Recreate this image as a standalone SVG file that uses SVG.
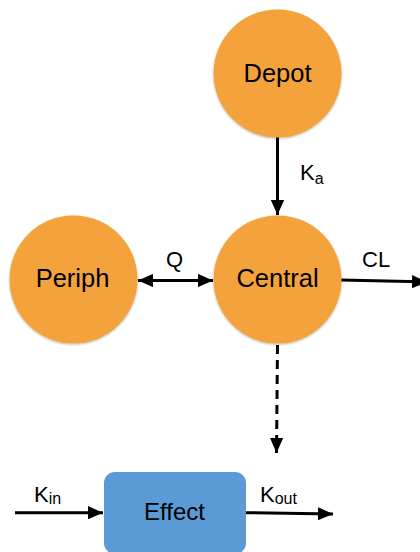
<svg xmlns="http://www.w3.org/2000/svg" width="420" height="552" viewBox="0 0 420 552">
<style>
.comp{fill:#F4A23B;filter:url(#sh)}
.big{font-family:"Liberation Sans",Arial,sans-serif;font-size:25.5px;fill:#000;text-anchor:middle}
.lbl{font-family:"Liberation Sans",Arial,sans-serif;font-size:22px;fill:#000}
.sub{font-size:16px}
.conn{stroke:#000;stroke-width:3;fill:none}
</style>
<defs>
<filter id="sh" x="-10%" y="-10%" width="120%" height="120%">
<feDropShadow dx="0" dy="1" stdDeviation="1.2" flood-color="#000" flood-opacity="0.3"/>
</filter>
<marker id="ah" markerWidth="5" markerHeight="4.4" refX="5" refY="2.2" orient="auto" markerUnits="strokeWidth">
<path d="M0,0 L5,2.2 L0,4.4 Z" fill="#000"/>
</marker>
<marker id="ahs" markerWidth="5" markerHeight="4.4" refX="0" refY="2.2" orient="auto" markerUnits="strokeWidth">
<path d="M5,0 L0,2.2 L5,4.4 Z" fill="#000"/>
</marker>
</defs>
<g id="connectors">
<line class="conn" x1="277.5" y1="136" x2="277.5" y2="215" marker-end="url(#ah)"/>
<line class="conn" x1="138" y1="280.5" x2="213" y2="280.5" marker-start="url(#ahs)" marker-end="url(#ah)"/>
<line class="conn" x1="341" y1="280" x2="427" y2="282" marker-end="url(#ah)"/>
<line class="conn" x1="277.5" y1="345" x2="276.5" y2="453" stroke-dasharray="9 6" stroke-width="2.6" marker-end="url(#ah)"/>
<line class="conn" x1="15" y1="512.7" x2="103" y2="512.7" marker-end="url(#ah)"/>
<line class="conn" x1="246" y1="512.7" x2="333" y2="514" marker-end="url(#ah)"/>
<text class="lbl" x="300" y="179.5">K<tspan class="sub" dy="4">a</tspan></text>
<text class="lbl" x="166" y="267">Q</text>
<text class="lbl" x="362" y="267">CL</text>
<text class="lbl" x="34" y="501.5">K<tspan class="sub" dy="2">in</tspan></text>
<text class="lbl" x="260" y="501.5">K<tspan class="sub" dy="2">out</tspan></text>
</g>
<g id="depot">
<circle class="comp" cx="277.5" cy="73.5" r="64"/>
<text class="big" x="277.5" y="81.5">Depot</text>
</g>
<g id="central">
<circle class="comp" cx="277.5" cy="279.5" r="64"/>
<text class="big" x="277.5" y="287">Central</text>
</g>
<g id="periph">
<circle class="comp" cx="73.5" cy="279.5" r="64"/>
<text class="big" x="72.5" y="287">Periph</text>
</g>
<g id="effect">
<rect x="104" y="472" width="142" height="82" rx="11" fill="#5B9BD5"/>
<text x="174.5" y="520" font-family="Liberation Sans,Arial,sans-serif" font-size="24" text-anchor="middle" fill="#000">Effect</text>
</g>
</svg>
